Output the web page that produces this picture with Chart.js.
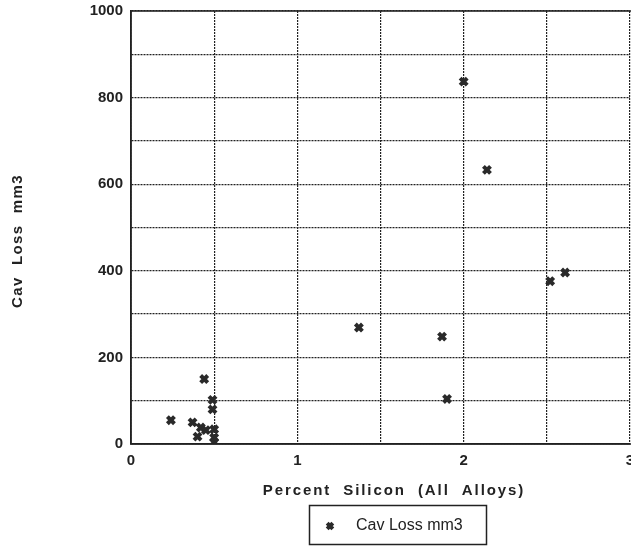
<!DOCTYPE html>
<html>
<head>
<meta charset="utf-8">
<style>
  html,body{margin:0;padding:0;background:#fff;}
  #wrap{width:631px;height:546px;position:relative;}
</style>
<script src="https://cdn.jsdelivr.net/npm/chart.js@4/dist/chart.umd.min.js"></script>
</head>
<body>
<div id="wrap"><canvas id="c" width="631" height="546"></canvas></div>
<script>
const seriesName = 'Cav Loss mm3';
const silicon = [2.00, 2.14, 2.52, 2.61, 1.37, 1.87, 1.90, 0.44, 0.24, 0.37, 0.42, 0.45, 0.40, 0.49, 0.49, 0.50, 0.50, 0.50];
const cavLoss = [837, 633, 376, 396, 269, 248, 104, 150, 55, 50, 38, 32, 17, 102, 80, 34, 15, 4];
const xTitle = 'Percent  Silicon  (All  Alloys)';
const yTitle = 'Cav  Loss  mm3';
const xMin = 0, xMax = 3, xStep = 0.5;
const yMin = 0, yMax = 1000, yStep = 100;

const ink = '#222';
const tickFont = {family: 'Liberation Sans, Arial, sans-serif', size: 15, weight: 'bold'};

const decor = {
  id: 'decor',
  afterDraw(chart) {
    const ctx = chart.ctx;
    const a = chart.chartArea;
    ctx.save();
    ctx.strokeStyle = ink;
    ctx.lineWidth = 1.5;
    ctx.beginPath();
    ctx.moveTo(a.right + 2, a.top);
    ctx.lineTo(a.left, a.top);
    ctx.lineTo(a.left, a.bottom);
    ctx.lineTo(a.right + 2, a.bottom);
    ctx.stroke();

    ctx.fillStyle = ink;
    ctx.font = 'bold 15px "Liberation Sans", Arial, sans-serif';
    ctx.letterSpacing = '1.9px';
    ctx.textAlign = 'center';
    ctx.textBaseline = 'middle';
    ctx.fillText(xTitle, 394, 491);
    ctx.save();
    ctx.translate(18, 241);
    ctx.rotate(-Math.PI / 2);
    ctx.letterSpacing = '1.4px';
    ctx.fillText(yTitle, 0, 0);
    ctx.restore();
    ctx.letterSpacing = '0px';

    ctx.lineWidth = 1.5;
    ctx.strokeStyle = ink;
    ctx.strokeRect(309.5, 505.5, 177, 39);
    const ds = chart.data.datasets[0];
    if (Chart.helpers && Chart.helpers.drawPoint) {
      ctx.strokeStyle = ds.pointBorderColor;
      ctx.fillStyle = ds.pointBorderColor;
      ctx.lineWidth = ds.pointBorderWidth;
      Chart.helpers.drawPoint(ctx, {pointStyle: ds.pointStyle, radius: 4, rotation: 0, borderWidth: ds.pointBorderWidth}, 330, 526);
    }
    ctx.fillStyle = ink;
    ctx.font = '16px "Liberation Sans", Arial, sans-serif';
    ctx.textAlign = 'left';
    ctx.textBaseline = 'middle';
    ctx.fillText(ds.label, 356, 526);
    ctx.restore();
  }
};

new Chart(document.getElementById('c'), {
  type: 'scatter',
  data: {
    datasets: [{
      label: seriesName,
      data: silicon.map((x, i) => ({x: x, y: cavLoss[i]})),
      pointStyle: 'crossRot',
      pointRadius: 5,
      pointHoverRadius: 5,
      pointBorderWidth: 4,
      pointBorderColor: '#2a2a2a',
      pointBackgroundColor: '#2a2a2a'
    }]
  },
  options: {
    responsive: false,
    animation: false,
    devicePixelRatio: 1,
    layout: {autoPadding: false, padding: {left: 0, right: 1, top: 11, bottom: 0}},
    plugins: {legend: {display: false}, tooltip: {enabled: false}},
    scales: {
      x: {
        type: 'linear', min: xMin, max: xMax,
        afterFit(s) { s.height = 102; s.paddingRight = 0; s.paddingLeft = 0; },
        ticks: {
          stepSize: xStep, padding: 8, color: ink, font: tickFont, maxRotation: 0, autoSkip: false,
          callback: v => (Number.isInteger(v) ? String(v) : '')
        },
        grid: {color: '#222', lineWidth: 1.2, drawTicks: false},
        border: {display: true, color: ink, width: 1.5, dash: [2, 1]}
      },
      y: {
        type: 'linear', min: yMin, max: yMax,
        afterFit(s) { s.width = 131; s.paddingTop = 0; s.paddingBottom = 0; },
        ticks: {
          stepSize: yStep, padding: 8, color: ink, font: tickFont, autoSkip: false,
          callback: v => (v % 200 === 0 ? String(v) : '')
        },
        grid: {color: '#222', lineWidth: 1.2, drawTicks: false},
        border: {display: true, color: ink, width: 1.5, dash: [2, 1]}
      }
    }
  },
  plugins: [decor]
});
</script>
</body>
</html>
